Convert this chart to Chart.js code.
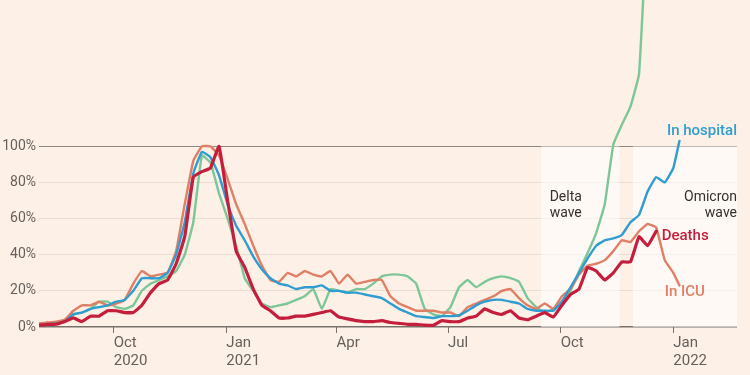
<!DOCTYPE html>
<html>
<head>
<meta charset="utf-8">
<script src="https://cdn.jsdelivr.net/npm/chart.js@4.4.1/dist/chart.umd.min.js"></script>
<style>
  html, body { margin: 0; padding: 0; background: #fdf0e6; }
  #wrap { width: 750px; height: 375px; }
</style>
</head>
<body>
<div id="wrap"><canvas id="myChart" width="750" height="375"></canvas></div>
<script>
// Days since 1 Aug 2020 (weekly samples)
let days = [0, 7, 14, 21, 28, 35, 42, 49, 56, 63,
  70, 77, 84, 91, 98, 105, 112, 119, 126, 133,
  140, 147, 154, 161, 168, 175, 182, 189, 196, 203,
  210, 217, 224, 231, 238, 245, 252, 259, 266, 273,
  280, 287, 294, 301, 308, 315, 322, 329, 336, 343,
  350, 357, 364, 371, 378, 385, 392, 399, 406, 413,
  420, 427, 434, 441, 448, 455, 462, 469, 476, 483,
  490, 497, 504, 511, 518, 523];

// % of previous peak
let deaths = [1, 1.5, 1.5, 3, 5, 3, 6, 6, 9, 9,
  8, 8, 12, 19, 24, 26, 35, 50, 83, 86,
  88, 100, 70, 42, 33, 21, 12, 9, 5, 5,
  6, 6, 7, 8, 9, 5.5, 4.5, 3.5, 3, 3,
  3.5, 2.5, 2, 1.5, 1.5, 1, 1, 3.5, 3, 3,
  5, 6, 10, 8, 7, 9, 5, 4, 6, 8,
  5.5, 12, 18, 21, 33, 31, 26, 30, 36, 36,
  50, 45, 53, null, null, null];

let icu = [2, 2.5, 3, 4, 9, 12, 12, 14, 12, 13,
  15, 24, 31, 28, 29, 30, 42, 68, 92, 100,
  100, 95, 82, 68, 57, 45, 34, 26, 25, 30,
  28, 31, 29, 28, 31, 24, 29, 24, 25, 26,
  26, 17, 13, 11, 9, 9, 9, 8, 8, 6,
  11, 13, 15, 17, 20, 21, 16, 12, 10, 13,
  10, 17, 21, 29, 34, 35, 37, 42, 48, 47,
  53, 57, 55, 37, 30, 23];

let hospital = [1, 1.5, 2, 3, 7, 8, 10, 11, 12, 14,
  15, 20, 27, 27, 27, 30, 40, 58, 85, 97,
  94, 84, 68, 56, 48, 39, 32, 27, 24, 23,
  21, 22, 22, 23, 20, 20, 19, 19, 18, 17,
  16, 13, 10, 8, 6, 5.5, 5, 6, 6, 6.5,
  9, 12, 14, 15, 15, 14, 13, 10, 9, 9,
  9, 14, 22, 30, 38, 45, 48, 49, 51, 58,
  62, 75, 83, 80, 88, 103];

let cases = [1, 2, 2.5, 4, 7, 8, 10, 14, 14, 11,
  10, 12, 20, 24, 26, 28, 31, 40, 58, 95,
  91, 74, 60, 45, 27, 20, 13, 11, 12, 13,
  15, 17, 21, 10, 21, 20, 19, 21, 21, 24,
  28, 29, 29, 28, 24, 10, 7, 6, 11, 22,
  26, 22, 25, 27, 28, 27, 25, 16, 11, 8,
  10, 14, 20, 31, 41, 52, 68, 101, 112, 122,
  140, 230, null, null, null, null];

// Axis ticks
let quarterDays = [61, 153, 243, 334, 426, 518];
let quarterLabels = [['Oct', '2020'], ['Jan', '2021'], ['Apr'], ['Jul'], ['Oct'], ['Jan', '2022']];
let yTicks = [0, 20, 40, 60, 80, 100];

// Shaded waves: [start day, end day]
let waves = [[410, 474], [485, 570]];

// Text notes: [text lines, day, value, align, colour, font]
let notes = [
  [['In hospital'], 570, 108.5, 'right', '#2f9dd0', '500 15px Roboto'],
  [['Deaths'], 508.5, 50.5, 'left', '#c41e3c', '500 15px Roboto'],
  [['In ICU'], 511, 19, 'left', '#df7f66', '500 15px Roboto'],
  [['Delta', 'wave'], 417, 71.5, 'left', '#33302e', '14px Roboto'],
  [['Omicron', 'wave'], 570, 71.5, 'right', '#33302e', '14px Roboto']
];

function toPoints(values) {
  return days.map((d, i) => ({ x: d, y: values[i] }));
}

// Plugin: white-ish boxes behind the lines
const wavePlugin = {
  id: 'waves',
  beforeDatasetsDraw(chart) {
    const ctx = chart.ctx;
    const xs = chart.scales.x, ys = chart.scales.y;
    ctx.save();
    ctx.fillStyle = 'rgba(255,255,255,0.6)';
    waves.forEach(w => {
      let x0 = xs.getPixelForValue(w[0]);
      let x1 = xs.getPixelForValue(w[1]);
      let y0 = ys.getPixelForValue(100);
      let y1 = ys.getPixelForValue(0);
      ctx.fillRect(x0, y0, x1 - x0, y1 - y0);
    });
    ctx.restore();
  }
};

// Plugin: text notes on the chart
const notePlugin = {
  id: 'notes',
  afterDatasetsDraw(chart) {
    const ctx = chart.ctx;
    const xs = chart.scales.x, ys = chart.scales.y;
    ctx.save();
    ctx.textBaseline = 'middle';
    notes.forEach(n => {
      ctx.font = n[5];
      ctx.fillStyle = n[4];
      ctx.textAlign = n[3];
      let x = xs.getPixelForValue(n[1]);
      let y = ys.getPixelForValue(n[2]);
      n[0].forEach((line, i) => ctx.fillText(line, x, y + i * 16));
    });
    ctx.restore();
  }
};

const data = {
  datasets: [
    { label: 'Deaths', data: toPoints(deaths), borderColor: '#c41e3c', borderWidth: 3.2 },
    { label: 'In hospital', data: toPoints(hospital), borderColor: '#2f9dd0', borderWidth: 2.4 },
    { label: 'In ICU', data: toPoints(icu), borderColor: '#df7f66', borderWidth: 2.4 },
    { label: 'Cases', data: toPoints(cases), borderColor: '#7cc698', borderWidth: 2.4 }
  ]
};

const config = {
  type: 'line',
  data: data,
  options: {
    responsive: false,
    animation: false,
    layout: { padding: { left: 0, right: 13, top: 0, bottom: 0 } },
    elements: { point: { radius: 0 }, line: { tension: 0.1, borderJoinStyle: 'round', borderCapStyle: 'round' } },
    plugins: { legend: { display: false }, tooltip: { enabled: false } },
    scales: {
      x: {
        type: 'linear',
        min: 0,
        max: 570,
        afterBuildTicks: s => { s.ticks = quarterDays.map(v => ({ value: v })); },
        afterFit: s => { s.height = 48; s.paddingLeft = 0; s.paddingRight = 0; },
        grid: { drawOnChartArea: false, drawTicks: true, tickLength: 6, color: '#77706b', lineWidth: 1 },
        border: { display: false },
        ticks: {
          align: 'start',
          padding: 2,
          maxRotation: 0,
          autoSkip: false,
          color: '#66605c',
          font: { family: 'Roboto', size: 15, lineHeight: 1.15 },
          callback: (v, i) => quarterLabels[i]
        }
      },
      y: {
        min: 0,
        max: 181,
        afterBuildTicks: s => { s.ticks = yTicks.map(v => ({ value: v })); },
        afterFit: s => { s.width = 39; s.paddingTop = 0; s.paddingBottom = 0; },
        grid: {
          drawTicks: false,
          color: c => c.tick.value === 0 ? '#77706b' : (c.tick.value === 100 ? '#8d8580' : '#eadcd1'),
          lineWidth: c => c.tick.value === 0 ? 1.5 : 1
        },
        border: { display: false },
        ticks: {
          padding: 3,
          color: '#66605c',
          font: { family: 'Roboto', size: 14 },
          callback: v => v + '%'
        }
      }
    }
  },
  plugins: [wavePlugin, notePlugin]
};

let myChart = new Chart(document.getElementById('myChart'), config);
</script>
</body>
</html>
